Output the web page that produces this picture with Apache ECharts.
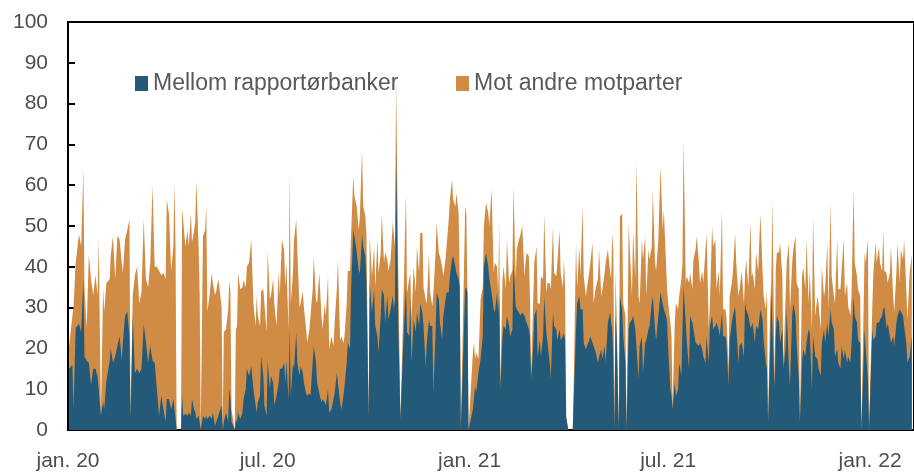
<!DOCTYPE html>
<html>
<head>
<meta charset="utf-8">
<script src="https://cdn.jsdelivr.net/npm/echarts@6/dist/echarts.min.js"></script>
<style>
html, body { margin: 0; padding: 0; background: #fff; }
#chart { width: 914px; height: 472px; }
</style>
</head>
<body>
<div id="chart"></div>
<script>
// dager etter 1. januar 2020 (lest av figuren)
var dager = [
    1, 4, 5, 7, 10, 12, 14, 15, 17, 19,
    21, 23, 25, 27, 28, 30, 32, 33, 35, 38,
    39, 41, 43, 45, 47, 49, 50, 52, 54, 56,
    57, 59, 61, 63, 65, 67, 69, 71, 73, 75,
    77, 79, 81, 83, 85, 87, 89, 90, 92, 94,
    96, 97, 98, 99, 100, 103, 104, 105, 107, 109,
    110, 112, 113, 115, 116, 117, 119, 120, 121, 123,
    125, 126, 127, 129, 131, 132, 134, 135, 137, 138,
    140, 141, 142, 144, 146, 147, 148, 149, 152, 153,
    154, 155, 157, 159, 160, 162, 163, 165, 167, 169,
    171, 172, 173, 175, 176, 178, 179, 181, 182, 184,
    185, 187, 188, 190, 192, 193, 195, 197, 198, 199,
    201, 202, 203, 205, 206, 208, 209, 211, 212, 214,
    215, 217, 218, 220, 221, 223, 224, 226, 227, 229,
    231, 232, 234, 235, 237, 238, 240, 242, 243, 245,
    246, 248, 249, 251, 252, 254, 255, 257, 258, 260,
    261, 263, 265, 266, 268, 269, 271, 272, 274, 275,
    277, 279, 280, 282, 283, 285, 286, 288, 289, 291,
    292, 294, 296, 297, 298, 299, 301, 303, 305, 306,
    308, 309, 311, 312, 313, 315, 317, 318, 320, 321,
    323, 324, 326, 327, 329, 330, 332, 333, 335, 336,
    338, 339, 341, 342, 344, 345, 347, 348, 350, 351,
    353, 354, 356, 357, 358, 359, 362, 363, 364, 365,
    366, 369, 370, 371, 372, 374, 375, 376, 378, 379,
    381, 383, 384, 386, 388, 389, 391, 392, 393, 394,
    396, 397, 399, 400, 402, 403, 405, 406, 408, 409,
    411, 412, 414, 416, 417, 418, 420, 421, 422, 424,
    425, 427, 428, 430, 431, 433, 434, 436, 437, 439,
    440, 442, 443, 445, 446, 448, 449, 451, 452, 453,
    454, 456, 457, 460, 461, 463, 464, 466, 467, 469,
    470, 472, 473, 475, 476, 478, 479, 481, 483, 484,
    486, 487, 489, 490, 492, 494, 495, 496, 497, 498,
    499, 500, 502, 503, 505, 506, 508, 509, 511, 512,
    514, 515, 517, 518, 520, 521, 523, 524, 526, 527,
    529, 530, 532, 533, 535, 536, 538, 540, 542, 543,
    545, 546, 547, 549, 550, 551, 553, 554, 556, 557,
    559, 560, 561, 563, 564, 566, 567, 569, 570, 572,
    573, 575, 576, 578, 579, 581, 582, 584, 585, 587,
    588, 590, 591, 593, 594, 596, 597, 599, 600, 602,
    603, 605, 606, 608, 609, 611, 612, 614, 616, 617,
    618, 620, 621, 622, 623, 624, 626, 627, 629, 631,
    633, 634, 636, 637, 638, 640, 641, 642, 644, 645,
    646, 648, 649, 651, 652, 654, 655, 657, 658, 660,
    661, 663, 664, 666, 667, 669, 670, 672, 673, 675,
    676, 678, 679, 681, 683, 684, 686, 687, 689, 690,
    692, 693, 695, 696, 698, 699, 701, 702, 704, 705,
    707, 708, 710, 711, 713, 714, 716, 717, 719, 720,
    722, 723, 726, 727, 729, 730, 733, 734, 736, 737,
    739, 740, 742, 743, 744, 746, 747, 749, 750, 752,
    753, 755, 756, 758, 759, 761, 762, 764, 765, 767,
    769
];

// Mellom rapportørbanker
var mellom = [
    15, 16, 5, 25, 26, 24, 37, 18, 17, 16.5,
    11, 15, 15, 13, 10, 3.5, 7, 5, 12, 17,
    20, 16.5, 18, 20.6, 23, 17, 21.5, 28, 29, 23,
    2.7, 28, 14, 15, 14, 15, 26, 21.5, 16.5, 20.6,
    17, 16.5, 10, 3.5, 8.4, 5, 2, 7.6, 7.6, 5,
    7.6, 5, 3, 0, 0, 0, 8.4, 3.5, 4, 3.5,
    4.3, 3.5, 7.6, 5, 4.3, 2.7, 3.5, 1.9, 0, 3.5,
    2.7, 3.5, 2.7, 3.5, 2.7, 4.3, 1, 1.9, 3.5, 3.5,
    6, 0, 1.9, 4.3, 1.9, 10, 8, 2, 0, 2.7,
    1.9, 4.3, 2.7, 4.3, 7.6, 10, 15, 13.3, 15.7, 10,
    6, 4.3, 6.8, 8.4, 18, 13.3, 6, 3.5, 17, 10,
    13.3, 11.6, 6, 8.4, 11.6, 15, 15, 16.5, 11.6, 17,
    7.6, 24.7, 8.4, 16.5, 15, 23.8, 16.5, 13.3, 15.7, 14,
    11.6, 9, 8.4, 9, 8.4, 16.5, 20.6, 16.5, 11.6, 9,
    6.8, 7.6, 6.8, 6, 10, 4.3, 5, 7.6, 9, 14,
    11.6, 6.8, 5, 8.4, 10.8, 16.5, 21.4, 19.8, 34.5, 49,
    47.5, 44, 39, 38.5, 48, 45, 42.6, 36, 3, 36,
    28.8, 34.5, 25.5, 23, 19, 28, 34.5, 33, 26.3, 33,
    27, 29.6, 33, 29.6, 32, 68, 25.5, 2.7, 17.4, 24,
    35, 24, 23, 32, 16.5, 27, 24, 28.8, 25.5, 31,
    28.8, 25.5, 15.7, 21.4, 27, 25.5, 25.5, 9, 24, 33.7,
    32, 26.3, 22.2, 27.9, 32, 33.7, 33.7, 37.7, 41.8, 42.6,
    40, 38.5, 37, 35, 0, 0, 34.5, 35, 33.7, 0,
    0, 5, 5, 10.8, 9.2, 14, 14, 17.4, 23, 40,
    43.4, 40, 37, 33.7, 29.6, 28.8, 33.7, 28.8, 32.8, 10,
    23, 25.5, 24.7, 28, 25.5, 23, 24.7, 41, 30.3, 29.6,
    28.8, 28, 28.8, 28, 27, 26.3, 24.7, 23, 12.5, 20.6,
    28, 29.6, 18, 22, 18, 23, 32.8, 23.8, 21.4, 16.5,
    12.5, 28.8, 25.5, 24.7, 22, 24.7, 22, 23, 23.8, 22,
    3, 0, 0, 0, 8.4, 24.7, 31, 32.8, 29.6, 29.6,
    21.4, 19.8, 20.6, 22, 23, 21.4, 21.4, 19, 16.5, 18,
    19.8, 17.4, 20.6, 16.5, 26.3, 28.8, 26.3, 24.7, 16.5, 0,
    28, 23, 0, 32.8, 29.6, 23, 16.5, 0, 24.7, 26.3,
    27, 28, 24.7, 20.6, 12.5, 20.6, 23, 14, 21.4, 22,
    24.7, 25.5, 31, 32.8, 24.7, 22, 28, 33.7, 31, 29.6,
    28, 26.3, 19.8, 10, 8.4, 5, 11.6, 8.4, 10, 16.5,
    13.3, 24.7, 35.2, 26.3, 21.4, 15, 28, 26.3, 24.7, 21.4,
    21.4, 20.6, 21.4, 19.8, 18, 16.5, 23, 16.5, 25.5, 28,
    24.7, 25.5, 26.3, 24.7, 23, 28.8, 23, 23, 22, 10.8,
    22, 26.3, 28, 30.3, 25.5, 16.5, 20.6, 21.4, 18, 31,
    29.6, 28, 28, 25, 24.7, 26.3, 21.4, 25.5, 24.7, 29.6,
    27, 22, 16.5, 15, 1.9, 20.6, 33.7, 24.7, 10, 23,
    28, 26.3, 21.4, 24.7, 15, 19.8, 29.6, 15, 10.8, 28,
    31, 28, 21.4, 12.5, 1.9, 16.5, 19.8, 18, 21.4, 24.7,
    23.8, 10, 23, 18, 17.4, 15, 13.3, 21.4, 24.7, 21.4,
    26.3, 23, 29.6, 26.3, 24.7, 18, 19.8, 16.5, 15, 20.6,
    17.4, 19.8, 16.5, 18, 16.5, 20.6, 32.8, 28, 26.3, 22,
    21.4, 0, 24.7, 19.8, 12.5, 0, 24.7, 22, 23, 26.3,
    26.3, 27, 28, 29.6, 30.3, 24.7, 26.3, 23, 21.4, 23,
    20.6, 26.3, 28, 29.6, 29.6, 28, 25.5, 21.4, 16.5, 18,
    23
];

// Mot andre motparter
var andre = [
    5.6, 12, 25, 16, 22, 21, 27, 17, 8, 26.5,
    26, 18, 23, 20, 37, 0, 28, 24, 24, 20,
    23, 31, 19, 27, 23.7, 24, 17, 18.7, 20, 28.6,
    0, 5, 24, 25, 17, 19, 25.6, 15.5, 18.5, 20.4,
    43, 23.5, 30, 35.5, 29.6, 33.5, 35, 48.9, 45.4, 34,
    37.4, 55.5, 42, 0, 0, 0, 46, 50.5, 41, 45.5,
    40.7, 49.5, 38.4, 44, 46.7, 58.3, 41.5, 31.1, 0, 44,
    46.3, 51.5, 26.3, 29.5, 35.8, 31.7, 32, 32.1, 33.5, 31.5,
    24, 0, 22.1, 20.4, 27.7, 26.5, 26, 3, 0, 22.8,
    22.8, 34.2, 31.8, 30.7, 29.1, 25, 25, 27.7, 31, 21,
    19.5, 28.7, 21.2, 17.1, 16, 21.2, 28.5, 20.5, 27, 22,
    19.7, 25.4, 25, 17.1, 27.4, 18, 31.7, 27.5, 23.4, 24,
    17.1, 38.3, 22.6, 22, 31.7, 27.8, 27.5, 16.7, 15.3, 20,
    18.4, 15.7, 13, 15.7, 19.6, 18, 22, 15.5, 19.4, 29.5,
    21.2, 17.1, 24.2, 22, 27.7, 15.5, 18, 13, 17.3, 20.5,
    30.2, 15.2, 18, 13, 12.2, 14.5, 17.6, 19.2, 13.5, 13.3,
    9.9, 11, 10, 13.9, 20.7, 10, 9.8, 11.5, 0, 11.5,
    8.9, 10.5, 9.5, 23.7, 19.5, 15.5, 18.5, 8, 17.2, 8.8,
    12, 12.2, 18, 18.4, 13, 17.8, 13.8, 0, 6.5, 11,
    23, 9.7, 14, 6.5, 10.5, 13, 9.7, 16.2, 13, 17.3,
    19.5, 9.5, 16.3, 9.6, 16.4, 8.2, 4.9, 24.7, 19.4, 17.1,
    11.4, 16.3, 17.8, 9.8, 9.8, 11.3, 17.9, 18.8, 19.6, 13.9,
    14.8, 19.5, 16.2, 2, 0, 0, 20.2, 18, 1.3, 0,
    0, 14, 16.4, 6.6, 9.8, 3.4, 9.9, 14.6, 12, 10,
    12.3, 13.2, 13, 25.3, 8.9, 12.2, 6.3, 4.9, 18, 0.8,
    14, 14.5, 9.8, 18.7, 10.5, 14.7, 14.3, 18.7, 6.7, 14.7,
    17.9, 19.5, 21.2, 9.7, 14, 17.2, 17.9, 9.8, 0.8, 11.4,
    13, 15.4, 13, 9, 19.7, 14, 20.2, 9.9, 14.6, 19.5,
    22, 21.2, 13, 13, 19, 24.3, 16.5, 12, 18, 13,
    0.5, 0, 0, 0, 4.9, 21.2, 4, 12.2, 8.1, 25.2,
    16.3, 13, 14.4, 16.5, 18, 24.5, 9.6, 16, 20.5, 26.3,
    13, 17.1, 17.9, 24.5, 18, 10.2, 10.7, 23.3, 27.5, 0,
    11, 5, 0, 19.6, 23.4, 8, 11.5, 0, 26.1, 18,
    5.8, 21, 12.3, 45.4, 20.3, 10.4, 23.7, 27.8, 26.1, 10.8,
    19.6, 16.3, 14, 26.2, 16.3, 17, 18.7, 30.8, 18, 24.4,
    13, 8.2, 11.2, 16.3, 14.6, 1, 14.7, 22.6, 19.6, 16.3,
    23.7, 16.3, 35.8, 9.7, 16.3, 21, 10.5, 8.2, 17.1, 22.9,
    26.1, 20.4, 14.6, 19.2, 18, 27.8, 25, 8.2, 5.5, 22,
    20.3, 21.2, 8.2, 14.3, 9.8, 25.2, 6.6, 6.6, 6, 4.2,
    10.8, 9.7, 11, 17.9, 15.5, 16.3, 13.9, 17.6, 13, 6.7,
    12.2, 7, 15.5, 25.8, 13, 12.2, 13.1, 18, 14.3, 23.4,
    12, 10.8, 13.1, 19.5, 0, 10.4, 3.3, 31.7, 1.6, 16,
    15.5, 17.2, 24.5, 13, 1.5, 13, 11.4, 30.9, 18.8, 13,
    13.3, 19.5, 14.6, 22, 0, 21.2, 20.2, 16.5, 25.3, 6.3,
    15.2, 14.7, 29.4, 10, 15.4, 16, 11.4, 18.6, 8.1, 13.1,
    19.6, 6.6, 26, 11.4, 8.1, 13, 26.9, 18, 19.5, 18.4,
    29.3, 13, 19.5, 12.4, 11.5, 12.2, 26.2, 13, 11.4, 12.5,
    11.4, 0, 18.8, 21.2, 34.2, 0, 5.7, 16.5, 22.9, 14.7,
    18.7, 14, 11, 19.4, 8.7, 13.8, 9.7, 15.5, 23.6, 9.8,
    8.4, 12.7, 17.9, 6.4, 14.7, 13.8, 21.2, 13.1, 10.5, 20.5,
    20
];

// x-akse: dag-nummer for 1. jan / 1. jul
var tickDager = [0, 182, 366, 547, 731];
var tickNavn = ['jan. 20', 'jul. 20', 'jan. 21', 'jul. 21', 'jan. 22'];

var farger = ['#235a7a', '#d08c44'];
var tekstFarge = '#4d4d4d';
var font = 'Liberation Sans, Arial, sans-serif';

// stabling gjøres her (begge aksene er verdiakser)
var blaa = dager.map(function (d, i) { return [d, mellom[i]]; });
var sum = dager.map(function (d, i) { return [d, mellom[i] + andre[i]]; });

var chart = echarts.init(document.getElementById('chart'));

var option = {
    animation: false,
    textStyle: { fontFamily: font },
    grid: {
        left: 68,
        right: -2,
        top: 22,
        bottom: 41,
        show: true,
        borderColor: '#000',
        borderWidth: 2,
        backgroundColor: 'transparent'
    },
    legend: [
        {
            left: 135, top: 72, padding: 0,
            icon: 'rect', itemWidth: 13, itemHeight: 15, itemGap: 7,
            data: ['Mellom rapportørbanker'],
            textStyle: { fontSize: 23, color: '#595959', fontFamily: font }
        },
        {
            left: 456, top: 72, padding: 0,
            icon: 'rect', itemWidth: 13, itemHeight: 15,
            data: ['Mot andre motparter'],
            textStyle: { fontSize: 23, color: '#595959', fontFamily: font }
        }
    ],
    xAxis: {
        type: 'value',
        min: 0,
        max: 771,
        splitLine: { show: false },
        axisLine: { show: true, onZero: false, lineStyle: { color: '#000', width: 2 } },
        axisTick: {
            show: true,
            inside: true,
            length: 6,
            customValues: tickDager.slice(1),
            lineStyle: { color: '#000', width: 2 }
        },
        axisLabel: {
            customValues: tickDager,
            formatter: function (v) {
                return tickNavn[tickDager.indexOf(v)];
            },
            fontSize: 21,
            color: tekstFarge,
            margin: 21
        }
    },
    yAxis: {
        type: 'value',
        min: 0,
        max: 100,
        interval: 10,
        splitLine: { show: false },
        axisLine: { show: true, lineStyle: { color: '#000', width: 2 } },
        axisTick: { show: true, inside: true, length: 7, lineStyle: { color: '#000', width: 2 } },
        axisLabel: { fontSize: 21, color: tekstFarge, margin: 20 }
    },
    series: [
        {
            name: 'Mot andre motparter',
            type: 'line',
            data: sum,
            symbol: 'none',
            z: 2,
            lineStyle: { width: 0 },
            itemStyle: { color: farger[1] },
            areaStyle: { color: farger[1], opacity: 1 }
        },
        {
            name: 'Mellom rapportørbanker',
            type: 'line',
            data: blaa,
            symbol: 'none',
            z: 3,
            lineStyle: { width: 0 },
            itemStyle: { color: farger[0] },
            areaStyle: { color: farger[0], opacity: 1 }
        }
    ]
};

chart.setOption(option);
</script>
</body>
</html>
